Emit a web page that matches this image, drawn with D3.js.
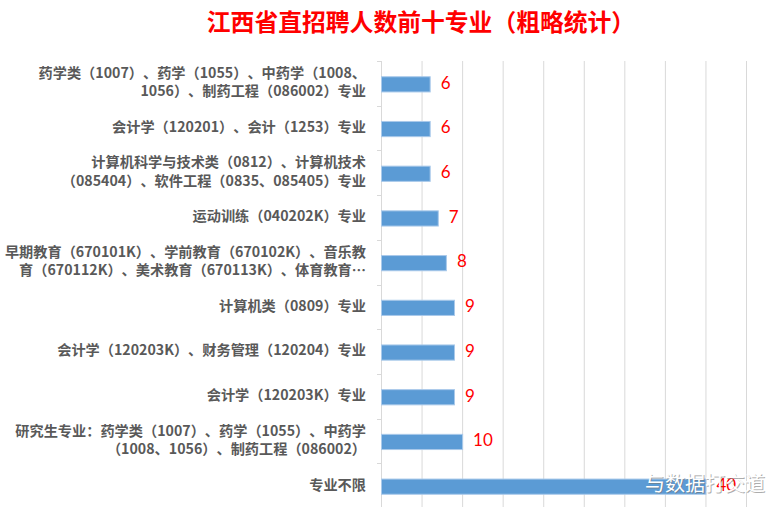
<!DOCTYPE html>
<html><head><meta charset="utf-8">
<script src="https://cdn.jsdelivr.net/npm/d3@7"></script>
<style>
body{margin:0;background:#fff;}
svg{display:block;}
text{text-spacing-trim: space-all;}
</style></head>
<body>
<svg id="chart" width="777" height="507"></svg>
<script>
const title = "江西省直招聘人数前十专业（粗略统计）";
const categories = [
  "药学类（1007）、药学（1055）、中药学（1008、|1056）、制药工程（086002）专业",
  "会计学（120201）、会计（1253）专业",
  "计算机科学与技术类（0812）、计算机技术|（085404）、软件工程（0835、085405）专业",
  "运动训练（040202K）专业",
  "早期教育（670101K）、学前教育（670102K）、音乐教|育（670112K）、美术教育（670113K）、体育教育…",
  "计算机类（0809）专业",
  "会计学（120203K）、财务管理（120204）专业",
  "会计学（120203K）专业",
  "研究生专业：药学类（1007）、药学（1055）、中药学|（1008、1056）、制药工程（086002）",
  "专业不限"
];
const values = [6, 6, 6, 7, 8, 9, 9, 9, 10, 40];
const xMax = 45;
const watermark = "与数据打交道";

const svg = d3.select("#chart");
const pLeft = 381, pRight = 746, pTop = 61, pBottom = 508;

const x = d3.scaleLinear().domain([0, xMax]).range([pLeft, pRight]);
const y = d3.scaleBand().domain(categories).range([pTop, pBottom]).padding(0);

// title
svg.append("text").attr("x", 421).attr("y", 31)
  .attr("text-anchor", "middle")
  .attr("font-family", "'Noto Sans CJK SC', sans-serif")
  .attr("font-size", 23.8).attr("font-weight", "bold")
  .attr("fill", "#ff0000").text(title);

// gridlines
const grid = svg.append("g").attr("transform", `translate(0,${pTop})`)
  .call(d3.axisBottom(x).tickValues(d3.range(5, xMax + 1, 5)).tickSize(pBottom - pTop).tickFormat(""));
grid.select(".domain").remove();
grid.selectAll(".tick line").attr("stroke", "#d9d9d9").attr("stroke-width", 1);

// left axis line and ticks at band boundaries
svg.append("line").attr("x1", pLeft + 0.5).attr("x2", pLeft + 0.5).attr("y1", pTop).attr("y2", pBottom)
  .attr("stroke", "#d9d9d9");
const bounds = categories.map(c => y(c)).concat([pBottom]);
svg.selectAll("line.ytick").data(bounds).join("line").attr("class", "ytick")
  .attr("x1", pLeft - 4).attr("x2", pLeft + 0.5)
  .attr("y1", d => Math.round(d) + 0.5).attr("y2", d => Math.round(d) + 0.5)
  .attr("stroke", "#d9d9d9");

// bars
const bh = y.bandwidth() * 0.34;
svg.selectAll("rect.bar").data(values).join("rect").attr("class", "bar")
  .attr("x", x(0) + 0.5)
  .attr("y", (d, i) => y(categories[i]) + y.bandwidth() / 2 - bh / 2 + 1)
  .attr("width", d => x(d) - x(0))
  .attr("height", bh)
  .attr("fill", "#5b9bd5").attr("stroke", "#a9c9ea").attr("stroke-width", 1);

// value labels
svg.selectAll("text.val").data(values).join("text").attr("class", "val")
  .attr("x", d => x(d) + 11)
  .attr("y", (d, i) => y(categories[i]) + y.bandwidth() / 2 + 1)
  .attr("dominant-baseline", "middle")
  .attr("font-family", "Lato, 'Liberation Sans', sans-serif")
  .attr("font-size", 17)
  .attr("fill", "#ff0000")
  .text(d => d);

// category labels
const lab = svg.selectAll("text.cat").data(categories).join("text").attr("class", "cat")
  .attr("text-anchor", "end")
  .attr("font-family", "'Noto Sans CJK SC', sans-serif")
  .attr("font-size", 14.2).attr("font-weight", "bold")
  .attr("fill", "#595959");
lab.each(function(d) {
  const lines = d.split("|");
  const cy = y(d) + y.bandwidth() / 2;
  const lh = 18.3;
  const t = d3.select(this);
  lines.forEach((ln, j) => {
    t.append("tspan").attr("x", 366)
      .attr("y", cy + (j - (lines.length - 1) / 2) * lh)
      .attr("dominant-baseline", "middle")
      .text(ln);
  });
});

// watermark
svg.append("text").attr("x", 646).attr("y", 492)
  .attr("font-family", "'Noto Sans CJK SC', sans-serif").attr("font-size", 20)
  .attr("fill", "#777").attr("opacity", 0.6).text(watermark);
svg.append("text").attr("x", 645).attr("y", 491)
  .attr("font-family", "'Noto Sans CJK SC', sans-serif").attr("font-size", 20)
  .attr("fill", "#ffffff").text(watermark);
</script>
</body></html>
